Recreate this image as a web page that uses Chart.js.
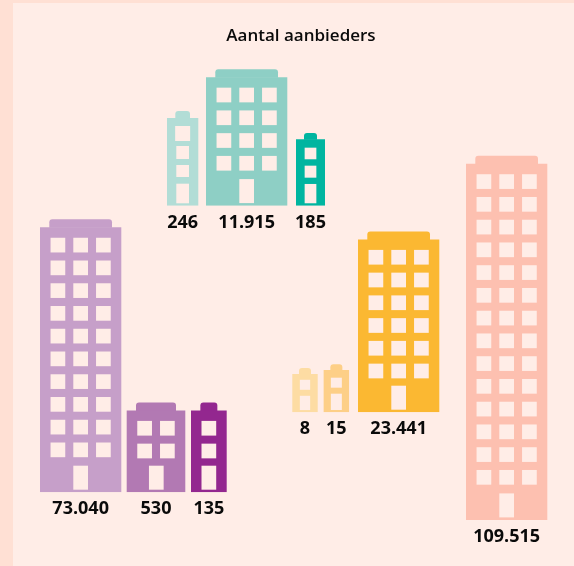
<!DOCTYPE html>
<html lang="nl">
<head>
<meta charset="utf-8">
<title>Aantal aanbieders</title>
<script src="https://cdn.jsdelivr.net/npm/chart.js@4"></script>
<style>
  html, body { margin: 0; padding: 0; width: 574px; height: 566px; overflow: hidden; background: #FFE0D4; }
  #vlak { position: absolute; left: 13px; top: 3px; right: 0; bottom: 0; background: #FFEDE7; }
  canvas { position: absolute; }
</style>
</head>
<body>
<div id="vlak"></div>
<script>
// ---- data ----
const titel = 'Aantal aanbieders';

const aanbiedersGroen = [246, 11915, 185];
const aanbiedersPaars = [73040, 530, 135];
const aanbiedersGeel  = [8, 15, 23441];
const aanbiedersRood  = [109515];

// building height (storeys of the icon, one storey = one window row)
const verdiepingenGroen = [3.855, 5.65, 2.92];
const verdiepingenPaars = [11.65, 3.6, 3.6];
const verdiepingenGeel  = [1.68, 1.86, 7.6];
const verdiepingenRood  = [15.66];

// ---- layout & style, kept apart from the data ----
const VERDIEPING_PX = 22.75;
const VENSTER = '#FFEDE7';
const labelFont = { family: '"Open Sans", sans-serif', size: 18, weight: '700' };

const gebouwStijl = {
  toren3: { breedte: 81.3, dak: [62.7, 8], kolommen: 3 },
  blok2:  { breedte: 58.6, dak: [40, 8],   kolommen: 2 },
  smal1:  { breedte: 35.7, dak: [17, 8],   kolommen: 1 }
};

function raster(stijl, hoogtePx) {
  // regular icon: window rows above a centred door
  const rijen = Math.round((hoogtePx - 37.7) / VERDIEPING_PX);
  const r = [];
  for (let i = 0; i < rijen; i++) {
    for (let k = 0; k < stijl.kolommen; k++) {
      r.push([(k - (stijl.kolommen - 1) / 2) * VERDIEPING_PX, 10.5 + i * VERDIEPING_PX, 14.7, 14.7]);
    }
  }
  r.push([stijl.kolommen === 2 ? 0.3 : 0, hoogtePx - 26.6, 14.7, 24]);
  return r;
}
// small icons: [dx, from top, width, height]
const kleineIconen = {
  a: { breedte: 31.3, dak: [14.7, 7], ramen: [[0, 8, 15, 15], [0, 28, 12.7, 13], [0, 47, 12.7, 12], [0, 65.7, 12.7, 19.6]] },
  b: { breedte: 29,   dak: [13, 6.3], ramen: [[0, 8.4, 11.7, 11.6], [0, 26.4, 11.7, 12], [0, 44.7, 11.7, 19.3]] },
  c: { breedte: 25.4, dak: [12, 6],   ramen: [[0, 5.7, 10.3, 10], [0, 21.7, 10.3, 14.3]] },
  d: { breedte: 25.4, dak: [12, 5.7], ramen: [[0, 7.7, 11, 10], [0, 23.7, 11, 16.3]] }
};

const groepen = [
  { links: 160, boven: 20, b: 282, h: 216, basis: 185.7, titel: true,
    waarden: aanbiedersGroen, hoogten: verdiepingenGroen,
    midden: [182.65, 246.65, 310.5],
    kleuren: ['#B2DDD6', '#8ECFC5', '#00B5A0'],
    vorm: [kleineIconen.a, gebouwStijl.toren3, kleineIconen.b] },
  { links: 20, boven: 210, b: 220, h: 312, basis: 282.3,
    waarden: aanbiedersPaars, hoogten: verdiepingenPaars,
    midden: [80.65, 156, 208.85],
    kleuren: ['#C69FC9', '#B279B3', '#93278F'],
    vorm: [gebouwStijl.toren3, gebouwStijl.blok2, gebouwStijl.smal1] },
  { links: 280, boven: 225, b: 170, h: 215, basis: 187.3,
    waarden: aanbiedersGeel, hoogten: verdiepingenGeel,
    midden: [305, 336.35, 398.65],
    kleuren: ['#FDDCA3', '#FDCF87', '#FBB832'],
    vorm: [kleineIconen.c, kleineIconen.d, gebouwStijl.toren3] },
  { links: 455, boven: 150, b: 110, h: 400, basis: 370,
    waarden: aanbiedersRood, hoogten: verdiepingenRood,
    midden: [506.65],
    kleuren: ['#FDC0B0'],
    vorm: [gebouwStijl.toren3] }
];

const nlGetal = new Intl.NumberFormat('nl-NL', { useGrouping: 'always' });
const TITEL_GROOTTE = 17;
const TITEL_RAND = 6;
const TITEL_HOOGTE = TITEL_GROOTTE * 1.2 + TITEL_RAND;

const gebouwPlugin = {
  id: 'gebouw',
  beforeDatasetDraw(chart, args) {
    // roof, same colour as the bar, on top of the bar
    const ds = chart.data.datasets[args.index];
    const el = chart.getDatasetMeta(args.index).data[0];
    const [w, h] = ds.vormInfo.dak;
    const ctx = chart.ctx;
    ctx.save();
    ctx.fillStyle = ds.backgroundColor;
    ctx.beginPath();
    ctx.roundRect(el.x - w / 2, el.y - h, w, h + 0.5, [3, 3, 0, 0]);
    ctx.fill();
    ctx.restore();
  },
  afterDatasetDraw(chart, args) {
    const ds = chart.data.datasets[args.index];
    const el = chart.getDatasetMeta(args.index).data[0];
    const vorm = ds.vormInfo;
    const hoogtePx = el.base - el.y;
    const ramen = vorm.ramen || raster(vorm, hoogtePx);
    const ctx = chart.ctx;
    ctx.save();
    ctx.fillStyle = VENSTER;
    ramen.forEach(([dx, top, w, h]) => ctx.fillRect(el.x + dx - w / 2, el.y + top, w, h));
    ctx.restore();
  }
};

groepen.forEach(g => {
  const canvas = document.createElement('canvas');
  canvas.width = g.b;
  canvas.height = g.h;
  canvas.style.left = g.links + 'px';
  canvas.style.top = g.boven + 'px';
  canvas.style.width = g.b + 'px';
  canvas.style.height = g.h + 'px';
  document.body.appendChild(canvas);

  const labels = g.waarden.map(v => nlGetal.format(v));
  const plotHoogte = g.basis - (g.titel ? TITEL_HOOGTE : 0);

  new Chart(canvas, {
    type: 'bar',
    data: {
      datasets: g.hoogten.map((v, i) => ({
        label: labels[i],
        data: [{ x: g.midden[i], y: v }],
        backgroundColor: g.kleuren[i],
        borderWidth: 0,
        grouped: false,
        barPercentage: 4,
        maxBarThickness: g.vorm[i].breedte,
        vormInfo: g.vorm[i]
      }))
    },
    options: {
      responsive: false,
      animation: false,
      devicePixelRatio: 1,
      layout: { padding: 0 },
      plugins: {
        legend: { display: false },
        tooltip: { enabled: false },
        title: {
          display: !!g.titel,
          text: titel,
          color: '#0A0A0A',
          font: { family: '"Open Sans", sans-serif', size: TITEL_GROOTTE, weight: '600', lineHeight: 1.2 },
          padding: { top: TITEL_RAND, bottom: 0 }
        }
      },
      scales: {
        x: {
          type: 'linear',
          offset: false,
          min: g.links,
          max: g.links + g.b,
          grid: { display: false, drawTicks: false, offset: false },
          border: { display: false },
          afterBuildTicks(scale) { scale.ticks = g.midden.map(value => ({ value })); },
          afterFit(scale) { scale.height = g.h - g.basis; },
          ticks: {
            autoSkip: false,
            maxRotation: 0,
            minRotation: 0,
            padding: 6,
            color: '#0A0A0A',
            font: labelFont,
            callback: (value, i) => labels[i]
          }
        },
        y: {
          type: 'linear',
          display: false,
          min: 0,
          max: plotHoogte / VERDIEPING_PX
        }
      }
    },
    plugins: [gebouwPlugin]
  });
});
</script>
</body>
</html>
